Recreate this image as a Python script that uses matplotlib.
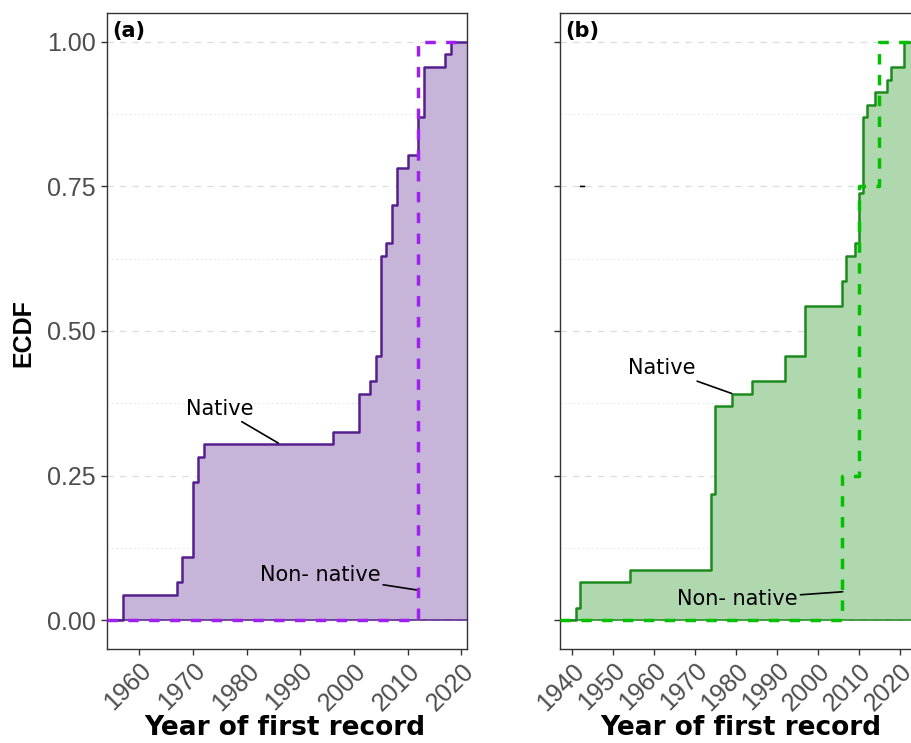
import numpy as np
import matplotlib.pyplot as plt

# first-record years and number of taxa recorded in each year
native_a_years = [1957, 1967, 1968, 1970, 1971, 1972, 1996, 2001, 2003, 2004,
                  2005, 2006, 2007, 2008, 2010, 2012, 2013, 2017, 2018]
native_a_counts = [2, 1, 2, 6, 2, 1, 1, 3, 1, 2, 8, 1, 3, 3, 1, 3, 4, 1, 1]
nonnative_a_years = [2012]
nonnative_a_counts = [1]

native_b_years = [1941, 1942, 1954, 1974, 1975, 1979, 1984, 1992, 1997, 2006,
                  2007, 2009, 2010, 2011, 2012, 2014, 2017, 2018, 2021]
native_b_counts = [1, 2, 1, 6, 7, 1, 1, 2, 4, 2, 2, 1, 4, 6, 1, 1, 1, 1, 2]
nonnative_b_years = [2006, 2010, 2015]
nonnative_b_counts = [1, 2, 1]

y_ticks = [0.0, 0.25, 0.5, 0.75, 1.0]
y_minor = [0.125, 0.375, 0.625, 0.875]

TICK_FONT = ['Liberation Sans', 'DejaVu Sans']
LAB_FONT = ['DejaVu Sans']


def ecdf_xy(years, counts, lo, hi):
    cum = np.cumsum(counts) / np.sum(counts)
    x = np.concatenate([[lo], years, [hi]])
    y = np.concatenate([[0.0], cum, [1.0]])
    return x, y


def panel(ax, nat_y, nat_c, non_y, non_c, line_col, fill_col, dash_col,
          xticks, tag, show_ylab):
    allyears = nat_y + non_y
    rng = max(allyears) - min(allyears)
    lo = min(allyears) - 0.05 * rng
    hi = max(allyears) + 0.05 * rng

    xn, yn = ecdf_xy(nat_y, nat_c, lo, hi)
    xo, yo = ecdf_xy(non_y, non_c, lo, hi)

    ax.fill_between(xn, 0, yn, step='post', color=fill_col, lw=0, zorder=1)
    ax.axhline(0, color=line_col, lw=1.1, zorder=2)
    ax.step(xn, yn, where='post', color=line_col, lw=1.8, zorder=3)
    ax.step(xo, yo, where='post', color=dash_col, lw=2.5,
            linestyle=(0, (3.0, 3.0)), zorder=4)

    ax.set_xlim(lo, hi)
    ax.set_ylim(-0.05, 1.05)
    ax.set_xticks(xticks)
    ax.set_xticklabels([str(t) for t in xticks], rotation=45, ha='right',
                       va='top', rotation_mode='anchor', family=TICK_FONT)
    ax.set_yticks(y_ticks)
    ax.set_yticks(y_minor, minor=True)
    ax.set_yticklabels(['%.2f' % t for t in y_ticks], family=TICK_FONT)
    ax.tick_params(axis='both', which='major', length=4, width=1.0,
                   color='#333333', labelcolor='#4d4d4d', labelsize=18)
    ax.tick_params(axis='x', pad=3)
    ax.tick_params(axis='y', pad=4, labelleft=show_ylab)
    ax.tick_params(which='minor', length=0)

    ax.yaxis.grid(True, which='major', color='#dcdcdc', lw=0.9,
                  linestyle=(0, (5, 5)), zorder=0)
    ax.yaxis.grid(True, which='minor', color='#e6e6e6', lw=0.8,
                  linestyle=(0, (1.5, 2.5)), zorder=0)
    ax.set_axisbelow(True)
    for s in ax.spines.values():
        s.set_color('#333333')
        s.set_linewidth(1.0)

    ax.text(0.014, 0.988, tag, transform=ax.transAxes, ha='left', va='top',
            fontsize=15, fontweight='bold', family=LAB_FONT)


fig = plt.figure(figsize=(9.12, 7.43), dpi=100)
ax_a = fig.add_axes([107 / 912, 1 - 649 / 743, 360 / 912, 636 / 743])
ax_b = fig.add_axes([560 / 912, 1 - 649 / 743, 360 / 912, 636 / 743])

panel(ax_a, native_a_years, native_a_counts, nonnative_a_years,
      nonnative_a_counts, '#561f8e', '#c7b4d9', '#a020f0',
      list(range(1960, 2021, 10)), '(a)', True)
panel(ax_b, native_b_years, native_b_counts, nonnative_b_years,
      nonnative_b_counts, '#1c8a1c', '#b0d8ae', '#00c000',
      list(range(1940, 2021, 10)), '(b)', False)

lead = dict(arrowstyle='-', color='black', lw=1.2, shrinkA=0, shrinkB=0)
ax_a.annotate('Native', xy=(1985.9, 0.306), xytext=(1981.3, 0.348),
              arrowprops=lead, ha='right', va='bottom', fontsize=15,
              family=LAB_FONT)
ax_a.annotate('Non- native', xy=(2011.75, 0.052), xytext=(2004.9, 0.078),
              arrowprops=lead, ha='right', va='center', fontsize=15,
              family=LAB_FONT)
ax_b.annotate('Native', xy=(1978.95, 0.392), xytext=(1970.0, 0.418),
              arrowprops=lead, ha='right', va='bottom', fontsize=15,
              family=LAB_FONT)
ax_b.annotate('Non- native', xy=(2006.1, 0.049), xytext=(1995.1, 0.036),
              arrowprops=lead, ha='right', va='center', fontsize=15,
              family=LAB_FONT)
ax_b.annotate('', xy=(1943.0, 0.75), xytext=(1942.0, 0.75), arrowprops=lead)

fig.text(23 / 912, 1 - 333 / 743, 'ECDF', rotation=90, ha='center',
         va='center', fontsize=18, fontweight='bold', family=TICK_FONT)
fig.text(285 / 912, 1 - 728 / 743, 'Year of first record', ha='center',
         va='center', fontsize=19, fontweight='bold', family=LAB_FONT)
fig.text(741 / 912, 1 - 728 / 743, 'Year of first record', ha='center',
         va='center', fontsize=19, fontweight='bold', family=LAB_FONT)

fig.savefig('out.png', dpi=100)
